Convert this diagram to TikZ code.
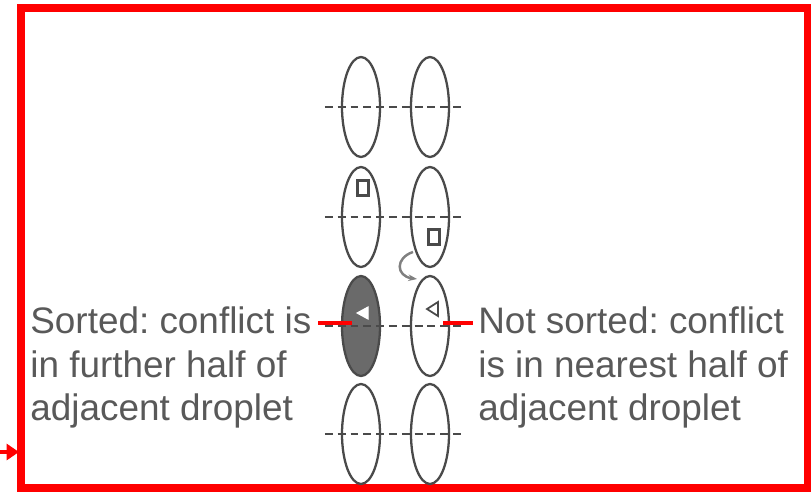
\documentclass[tikz,border=0pt]{standalone}
\usepackage{fontspec}
\setmainfont{Liberation Sans}
\usepackage{tikz}
\usetikzlibrary{shapes.geometric}
\usetikzlibrary{calc}
\usetikzlibrary{arrows.meta}
\definecolor{txtgray}{HTML}{595959}
\definecolor{inkgray}{HTML}{4A4A4A}
\definecolor{dropfill}{HTML}{6A6A6A}
\frenchspacing

\begin{document}
\begin{tikzpicture}[x=0.02cm, y=-0.02cm,
  drop/.style={draw=inkgray, ellipse, line width=1.3pt, minimum width=0.76cm, minimum height=2cm, inner sep=0pt},
  cell/.style={draw=inkgray, rectangle, line width=1.2pt, minimum width=0.22cm, minimum height=0.3cm, inner sep=0pt},
  midline/.style={draw=inkgray, line width=1.4pt, dash pattern=on 4.5pt off 2.8pt},
  leader/.style={draw=red, line width=2.4pt},
  label/.style={font=\fontsize{21}{25}\selectfont, text=txtgray, align=left, inner sep=0pt, anchor=north west}]
\useasboundingbox (0,0) rectangle (811,491);
\draw[red, line width=4pt] (21,8) rectangle (808,488);
\coordinate (IN0) at (0,452);
\coordinate (IN1) at (19,452);
\draw[red, line width=2.2pt, -{Triangle[length=7pt,width=9pt]}] (IN0) -- (IN1);

% droplets
\node[drop] (D1N0) at (361,107) {};
\node[drop] (D1N1) at (430,107) {};
\node[drop] (D2N0) at (361,217) {};
\node[drop] (D2N1) at (430,217) {};
\node[drop, fill=dropfill] (D3N0) at (361,326) {};
\node[drop] (D3N1) at (430,326) {};
\node[drop] (D4N0) at (361,434) {};
\node[drop] (D4N1) at (430,434) {};
\foreach \r in {1,2,3,4}
  \draw[midline] ($(D\r N0.west)+(-16,0)$) -- ($(D\r N1.east)+(11,0)$);

% conflicts
\node[cell] (C2N0) at (363,188) {};
\node[cell] (C2N1) at (434,237) {};
\draw[draw=white, fill=white, line width=0.6pt] (368,307) -- (357,313) -- (368,319) -- cycle;
\draw[draw=inkgray, line width=1pt] (438,302) -- (427,309) -- (438,316) -- cycle;
\coordinate (M0) at (413,252);
\coordinate (M1) at (417,279);
\draw[gray, line width=1.4pt, -{Stealth[length=5pt]}] (M0) .. controls (395,258) and (396,276) .. (M1);

% labels
\node[label] (L0) at (30,306) {Sorted: conflict is\\in further half of\\adjacent droplet};
\node[label] (L1) at (478,306) {Not sorted: conflict\\is in nearest half of\\adjacent droplet};
\coordinate (P0) at (318,323);
\coordinate (P1) at (352,323);
\coordinate (Q0) at (443,323);
\coordinate (Q1) at (473,323);
\draw[leader] (P0) -- (P1);
\draw[leader] (Q0) -- (Q1);
\end{tikzpicture}
\end{document}
